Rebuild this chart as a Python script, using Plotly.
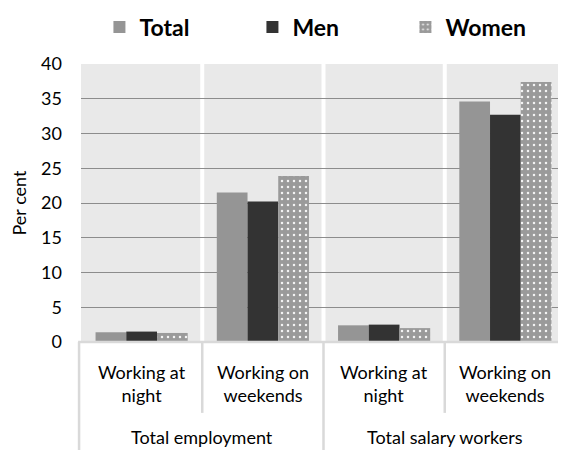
import plotly.graph_objects as go

groups = ["Total employment", "Total employment", "Total salary workers", "Total salary workers"]
subcats = ["Working at<br>night", "Working on<br>weekends", "Working at<br>night", "Working on<br>weekends"]
total = [1.4, 21.5, 2.4, 34.6]
men = [1.5, 20.2, 2.5, 32.7]
women = [1.3, 23.9, 2.0, 37.4]
y_ticks = [0, 5, 10, 15, 20, 25, 30, 35, 40]

FONT = "Lato, 'Open Sans', sans-serif"
FS = 18
xpos = list(range(len(subcats)))

fig = go.Figure()
fig.add_trace(go.Bar(name="Total", x=xpos, y=total, marker=dict(color="#959595", line=dict(width=0))))
fig.add_trace(go.Bar(name="Men", x=xpos, y=men, marker=dict(color="#333333", line=dict(width=0))))
fig.add_trace(go.Bar(name="Women", x=xpos, y=women,
                     marker=dict(color="#9a9a9a", line=dict(width=0),
                                 pattern=dict(shape=".", fgcolor="#f4f4f4", bgcolor="#9a9a9a",
                                              size=6, solidity=0.14, fillmode="replace"))))

shapes = []
# white separators between category panels
for i in range(len(subcats) - 1):
    shapes.append(dict(type="line", xref="x", yref="paper", x0=i + 0.5, x1=i + 0.5, y0=0, y1=1,
                       line=dict(color="#ffffff", width=4), layer="between"))
# separators in label area
for i in range(len(subcats) - 1):
    full = groups[i] != groups[i + 1]
    shapes.append(dict(type="line", xref="x", yref="paper", x0=i + 0.5, x1=i + 0.5, y0=0,
                       y1=-0.45 if full else -0.255,
                       line=dict(color="#d9d9d9", width=2.5), layer="above"))
shapes.append(dict(type="line", xref="paper", yref="paper", x0=-0.004, x1=-0.004, y0=0, y1=-0.45,
                   line=dict(color="#d9d9d9", width=2.5), layer="above"))
shapes.append(dict(type="line", xref="paper", yref="paper", x0=-0.006, x1=1, y0=0, y1=0,
                   line=dict(color="#d9d9d9", width=2.5), layer="above"))

annotations = []
for i, s in enumerate(subcats):
    annotations.append(dict(x=i, y=-0.151, xref="x", yref="paper", text=s, showarrow=False,
                            font=dict(family=FONT, size=FS, color="#000000"), yanchor="middle",
                            xanchor="center"))
seen = []
for g in groups:
    if g not in seen:
        seen.append(g)
for g in seen:
    idx = [i for i, gg in enumerate(groups) if gg == g]
    annotations.append(dict(x=(idx[0] + idx[-1]) / 2, y=-0.343, xref="x", yref="paper", text=g,
                            showarrow=False, font=dict(family=FONT, size=FS, color="#000000"),
                            yanchor="middle", xanchor="center"))

# page body has an 8px margin, so the figure is 8px smaller than the window on each axis
fig.update_layout(
    width=558, height=442,
    margin=dict(l=73, r=0, t=56, b=108, autoexpand=False),
    paper_bgcolor="#ffffff", plot_bgcolor="#e9e9e9",
    barmode="group", bargap=0.24, bargroupgap=0,
    font=dict(family=FONT, size=FS, color="#000000"),
    showlegend=True,
    legend=dict(orientation="h", x=0.038, xanchor="left", y=0.957, yref="container", yanchor="middle",
                font=dict(family=FONT, size=23, color="#000000", weight="bold"),
                entrywidth=108, itemwidth=30, bgcolor="rgba(0,0,0,0)"),
    xaxis=dict(range=[-0.5, len(subcats) - 0.5], showticklabels=False, showgrid=False,
               zeroline=False, showline=False, ticks="", fixedrange=True, automargin=False),
    yaxis=dict(range=[0, 40], tickvals=y_ticks, showgrid=True, gridcolor="#8c8c8c", gridwidth=1,
               zeroline=False, showline=False, ticks="", ticklabelstandoff=18, automargin=False,
               title=dict(text="Per cent", standoff=14, font=dict(family=FONT, size=FS))),
    shapes=shapes, annotations=annotations,
)

fig.write_html("out.html")
